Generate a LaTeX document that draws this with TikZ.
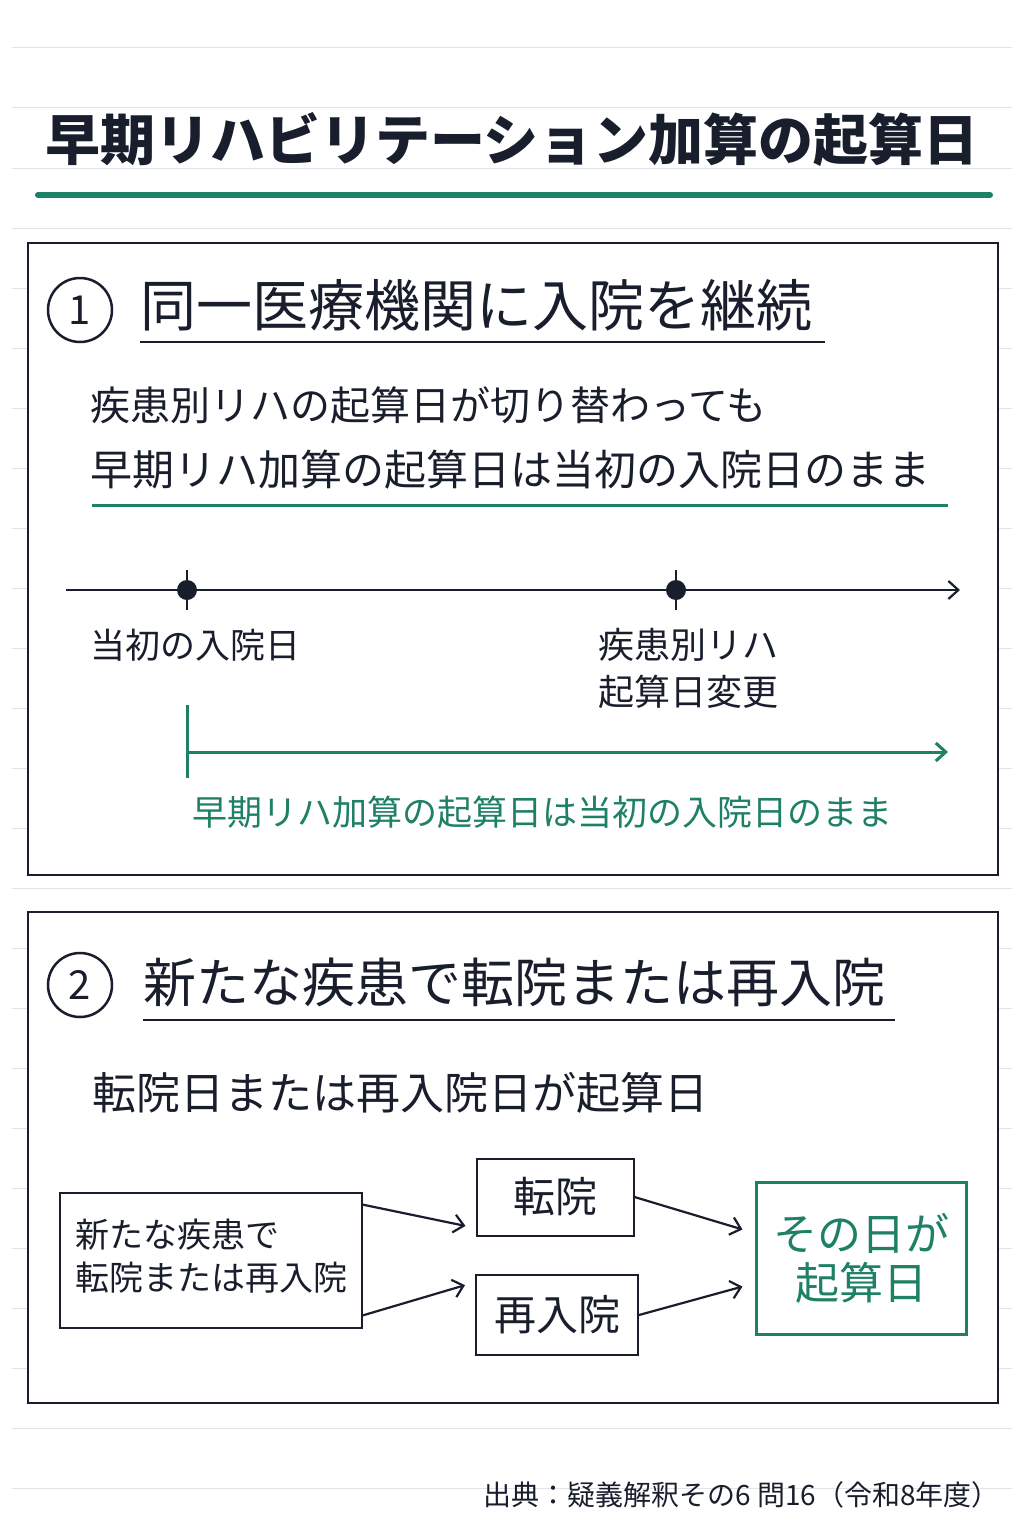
\documentclass[tikz,border=0pt]{standalone}
\usepackage{fontspec}
\setmainfont{Noto Sans CJK JP}
\usetikzlibrary{positioning,arrows.meta}
\definecolor{ink}{RGB}{25,30,45}
\definecolor{teal}{RGB}{30,128,100}
\definecolor{rule}{RGB}{225,228,232}
\newcommand{\fs}[1]{\fontsize{#1}{#1}\selectfont}
\tikzset{
  txt/.style={anchor=west,inner sep=0pt,text=ink},
  panel/.style={draw=ink,line width=2.5pt},
  card/.style={draw=ink,line width=2pt,align=left,inner sep=0pt,minimum height=#1},
  link/.style={-{Straight Barb[length=10pt,width=18pt]},line width=2.2pt,draw=ink},
}
\begin{document}
\begin{tikzpicture}[x=1pt,y=-1pt]
	\useasboundingbox [fill=white] (0,0) rectangle (1024,1536);
	% notebook lines
	\foreach \y in {48,108,...,1500}
		\draw [rule,line width=1pt] (12,\y) -- (1012,\y);

	% title
	\node (title) at (512,140) [inner sep=0pt,text=ink] {\fs{55}\bfseries 早期リハビリテーション加算の起算日};
	\draw [teal,line width=6pt,line cap=round] (38,195) -- (990,195);

	% panel 1
	\draw [panel,fill=white] (28,243) rectangle (998,875);
	\node (n1) at (80,310) [circle,draw=ink,line width=2.5pt,minimum size=64pt,inner sep=0pt,text=ink] {\fs{40}1};
	\node (head1) at (140,305) [txt] {\fs{56}同一医療機関に入院を継続};
	\draw [ink,line width=2.5pt] (140,342) -- (825,342);
	\node (line1) at (90,405) [txt] {\fs{40}疾患別リハの起算日が切り替わっても};
	\node (line2) at (90,470) [txt] {\fs{42}早期リハ加算の起算日は当初の入院日のまま};
	\draw [teal,line width=3pt] (92,505) -- (948,505);

	% timeline
	\coordinate (t0) at (66,590);
	\coordinate (t1) at (960,590);
	\draw [link] (t0) -- (t1);
	\fill [ink] (187,590) circle (10pt) node (d1) {};
	\fill [ink] (676,590) circle (10pt) node (d2) {};
	\draw [ink,line width=2.5pt] (187,570) -- (187,610) (676,570) -- (676,610);
	\node (lab1) at (90,645) [txt] {\fs{35}当初の入院日};
	\node (lab2) at (598,645) [txt] {\fs{36}疾患別リハ};
	\node (lab3) at (598,692) [txt] {\fs{36}起算日変更};

	% green span
	\coordinate (g0) at (187,752);
	\coordinate (g1) at (948,752);
	\draw [teal,line width=3pt] (187,705) -- (187,778);
	\draw [link,draw=teal,line width=3pt] (g0) -- (g1);
	\node (green1) at (192,812) [txt,text=teal] {\fs{35}早期リハ加算の起算日は当初の入院日のまま};

	% panel 2
	\draw [panel,fill=white] (28,912) rectangle (998,1403);
	\node (n2) at (80,985) [circle,draw=ink,line width=2.5pt,minimum size=64pt,inner sep=0pt,text=ink] {\fs{40}2};
	\node (head2) at (143,982) [txt] {\fs{53}新たな疾患で転院または再入院};
	\draw [ink,line width=2.5pt] (143,1020) -- (895,1020);
	\node (line3) at (92,1093) [txt] {\fs{44}転院日または再入院日が起算日};

	% flow
	\node (cause) at (211,1260) [card=135pt,minimum width=302pt,fill=white,text=ink,align=center] {\fs{34}\begin{tabular}{l}新たな疾患で\\[4pt]転院または再入院\end{tabular}};
	\node (move) at (555,1197) [card=77pt,minimum width=157pt,fill=white,text=ink] {\fs{42}転院};
	\node (back) at (557,1315) [card=80pt,minimum width=162pt,fill=white,text=ink] {\fs{42}再入院};
	\node (start) at (861,1258) [card=152pt,minimum width=210pt,draw=teal,line width=3pt,fill=white,text=teal,align=center] {\fs{44}その日が\\[8pt]\fs{44}起算日};
	\draw [link] (cause.20) -- ([xshift=-10pt]move.200);
	\draw [link] (cause.-20) -- ([xshift=-10pt]back.160);
	\draw [link] (move.east) -- ([xshift=-12pt]start.165);
	\draw [link] (back.east) -- ([xshift=-12pt]start.195);

	% source
	\node (src) at (1000,1495) [anchor=east,inner sep=0pt,text=ink] {\fs{28}出典：疑義解釈その6 問16（令和8年度）};
\end{tikzpicture}
\end{document}
